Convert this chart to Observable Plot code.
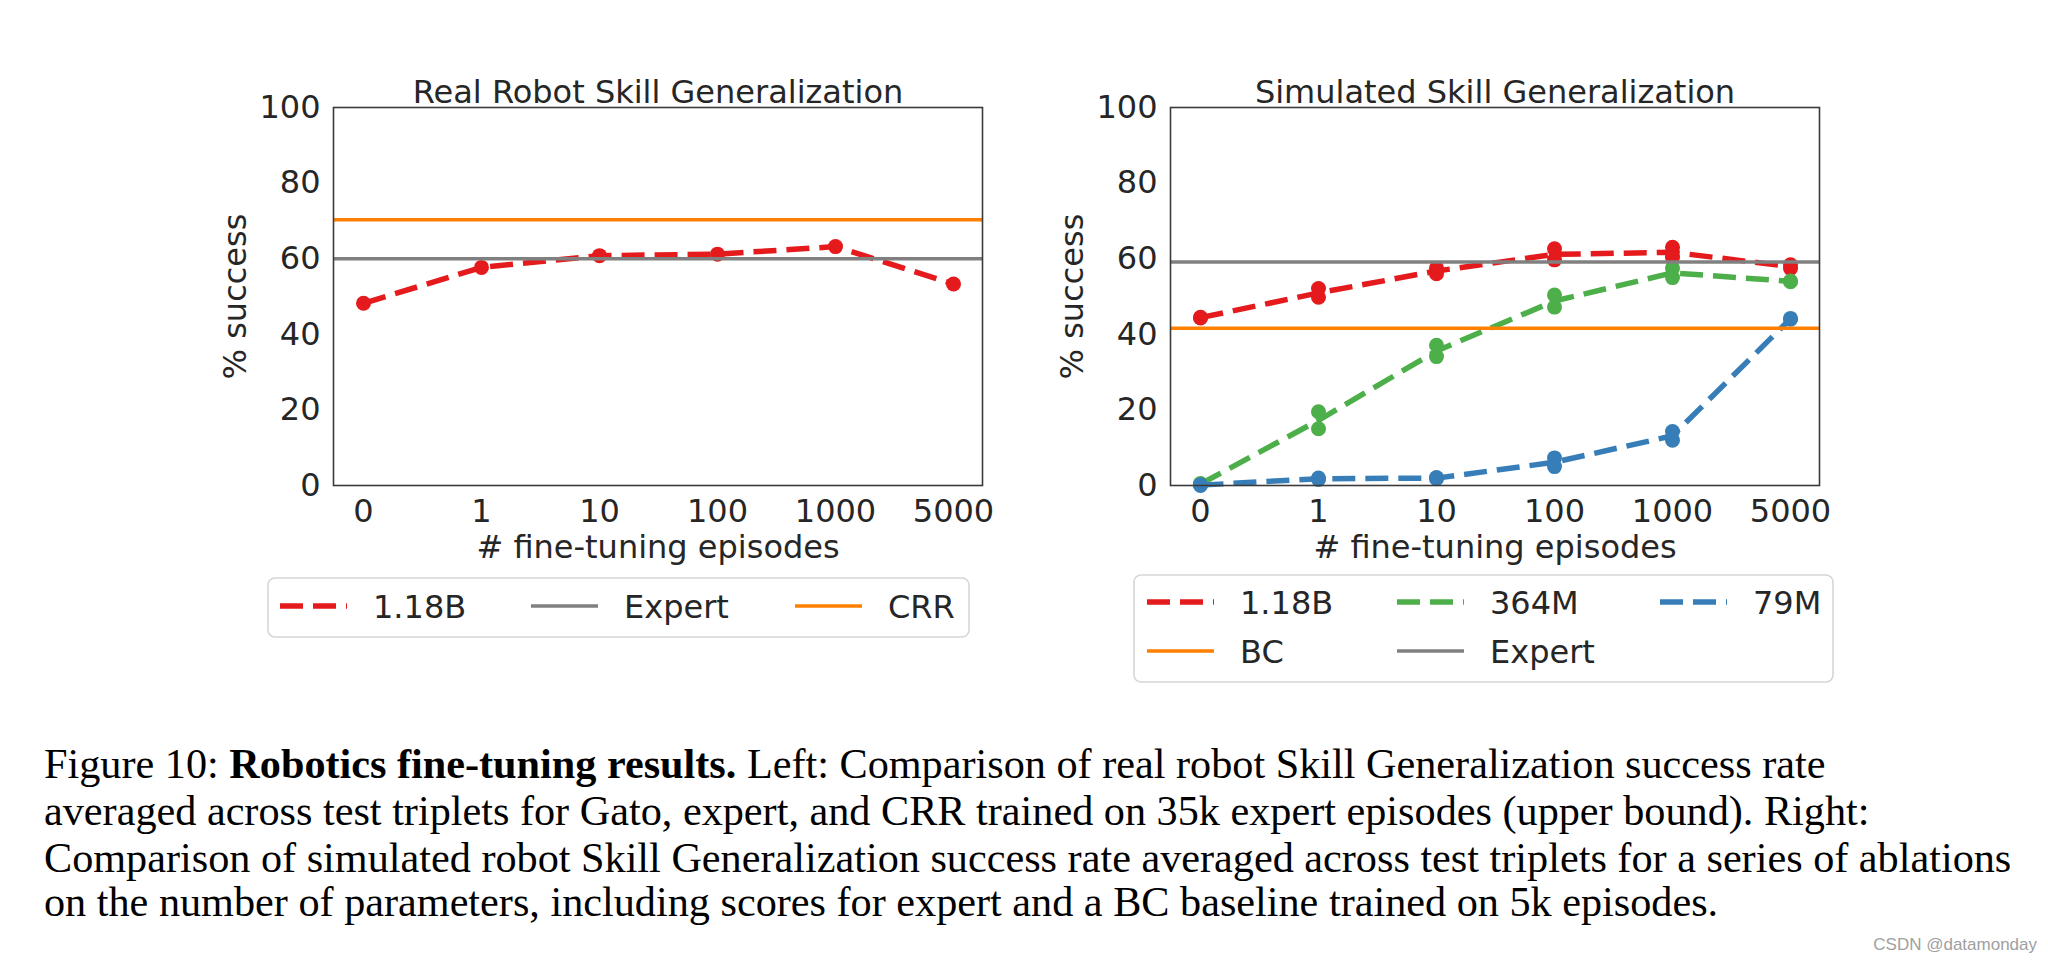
<!DOCTYPE html>
<html><head><meta charset="utf-8">
<script src="https://cdn.jsdelivr.net/npm/d3@7"></script>
<script src="https://cdn.jsdelivr.net/npm/@observablehq/plot@0.6"></script>
<style>
html,body{margin:0;padding:0;background:#fff;width:2048px;height:961px;overflow:hidden;}
#page{position:relative;width:2048px;height:961px;background:#fff;}
.abs{position:absolute;}
</style></head><body><div id="page"></div>
<script>
// ---------------- data ----------------
const episodes = ["0", "1", "10", "100", "1000", "5000"];
const yTicks = [0, 20, 40, 60, 80, 100];

// Left: Real Robot Skill Generalization
const realTitle = "Real Robot Skill Generalization";
const realModels = ["1.18B"];
const realColors = ["#e41a1c"];
const realGato = [48.2, 57.7, 60.8, 61.2, 63.2, 53.3];
const realExpert = 60.0;
const realCRR = 70.3;

// Right: Simulated Skill Generalization (two observations per point)
const simTitle = "Simulated Skill Generalization";
const simModels = ["1.18B", "364M", "79M"];
const simColors = ["#e41a1c", "#4daf4a", "#377eb8"];
const sim118B_a = [44.5, 52.1, 57.5, 62.6, 63.0, 58.4];
const sim118B_b = [44.3, 49.8, 56.0, 59.7, 60.4, 57.4];
const sim364M_a = [0.5, 19.5, 37.1, 50.4, 57.5, 54.1];
const sim364M_b = [0.3, 15.0, 34.1, 47.2, 55.0, 53.9];
const sim79M_a = [0.2, 2.0, 2.1, 7.3, 14.3, 44.2];
const sim79M_b = [0.0, 1.6, 1.8, 5.0, 12.0, 44.0];
const simBC = 41.6;
const simExpert = 59.1;

const expertColor = "#808080";
const orangeColor = "#ff7f00";

const leftLegend = [
  {label: "1.18B", color: "#e41a1c", dashed: true},
  {label: "Expert", color: expertColor, dashed: false},
  {label: "CRR", color: orangeColor, dashed: false}
];
const rightLegend = [
  {label: "1.18B", color: "#e41a1c", dashed: true},
  {label: "364M", color: "#4daf4a", dashed: true},
  {label: "79M", color: "#377eb8", dashed: true},
  {label: "BC", color: orangeColor, dashed: false},
  {label: "Expert", color: expertColor, dashed: false}
];

const xLabel = "# fine-tuning episodes";
const yLabel = "% success";

const captionLines = [
  [["Figure 10: ", false], ["Robotics fine-tuning results.", true], [" Left: Comparison of real robot Skill Generalization success rate", false]],
  [["averaged across test triplets for Gato, expert, and CRR trained on 35k expert episodes (upper bound). Right:", false]],
  [["Comparison of simulated robot Skill Generalization success rate averaged across test triplets for a series of ablations", false]],
  [["on the number of parameters, including scores for expert and a BC baseline trained on 5k episodes.", false]]
];
const watermark = "CSDN @datamonday";

// ---------------- build tables ----------------
const realRows = episodes.map((e, i) => ({ep: e, v: realGato[i], model: "1.18B"}));
const simSeries = [
  ["1.18B", sim118B_a], ["1.18B", sim118B_b],
  ["364M", sim364M_a], ["364M", sim364M_b],
  ["79M", sim79M_a], ["79M", sim79M_b]
];
const simRows = [];
for (const [m, vals] of simSeries) episodes.forEach((e, i) => simRows.push({ep: e, v: vals[i], model: m}));

const page = document.getElementById("page");
const TEXT = "#262626";
const FONT = "DejaVu Sans";

function panel(rows, models, colors, rules, title) {
  return Plot.plot({
    width: 800, height: 540,
    marginLeft: 133, marginRight: 18, marginTop: 57, marginBottom: 105,
    x: {type: "point", domain: episodes, padding: 0.25, label: null},
    y: {domain: [0, 100], label: null},
    color: {domain: models, range: colors},
    style: {fontFamily: FONT, fontSize: "32px", color: TEXT, background: "transparent", overflow: "visible"},
    marks: [
      Plot.lineY(rows, Plot.groupX({y: "mean"}, {x: "ep", y: "v", z: "model", stroke: "model",
        strokeWidth: 5.5, strokeDasharray: "23,10", strokeLinecap: "butt", strokeLinejoin: "round"})),
      Plot.dot(rows, {x: "ep", y: "v", fill: "model", r: 7.5}),
      ...rules.map(([val, col]) => Plot.ruleY([val], {stroke: col, strokeWidth: 3.5})),
      Plot.frame({stroke: "#3a3a3a", strokeWidth: 1.6}),
      Plot.axisX({tickSize: 0, tickPadding: 14, fill: TEXT}),
      Plot.axisY({ticks: yTicks, tickSize: 0, tickPadding: 13, fill: TEXT}),
      Plot.text([title], {text: d => d, frameAnchor: "top", textAnchor: "middle", lineAnchor: "bottom", dy: -5, fill: TEXT}),
      Plot.text([xLabel], {text: d => d, frameAnchor: "bottom", textAnchor: "middle", lineAnchor: "bottom", dy: 72, fill: TEXT}),
      Plot.text([yLabel], {text: d => d, frameAnchor: "left", textAnchor: "middle", rotate: -90, dx: -98, fill: TEXT})
    ]
  });
}

const left = panel(realRows, realModels, realColors, [[realCRR, orangeColor], [realExpert, expertColor]], realTitle);
left.classList.add("abs"); left.style.left = "200px"; left.style.top = "50px";
page.appendChild(left);

const right = panel(simRows, simModels, simColors, [[simBC, orangeColor], [simExpert, expertColor]], simTitle);
right.classList.add("abs"); right.style.left = "1037px"; right.style.top = "50px";
page.appendChild(right);

// ---------------- legends ----------------
function legend(items, box, cols, rowY, colX) {
  const svg = d3.create("svg").attr("class", "abs")
    .attr("width", box.w + 4).attr("height", box.h + 4)
    .style("left", (box.x - 2) + "px").style("top", (box.y - 2) + "px")
    .style("font-family", FONT).style("font-size", "32px");
  svg.append("rect").attr("x", 2).attr("y", 2).attr("width", box.w).attr("height", box.h)
    .attr("rx", 7).attr("fill", "#fff").attr("stroke", "#d6d6d6").attr("stroke-width", 1.6);
  items.forEach((it, i) => {
    const c = i % cols, r = Math.floor(i / cols);
    const g = svg.append("g").attr("transform", `translate(${2 + colX[c]},${2 + rowY[r]})`);
    g.append("line").attr("x1", 0).attr("x2", 67).attr("y1", 0).attr("y2", 0)
      .attr("stroke", it.color).attr("stroke-width", it.dashed ? 5.5 : 3.5)
      .attr("stroke-dasharray", it.dashed ? "23,10" : null);
    g.append("text").attr("x", 93).attr("y", 11.5).attr("fill", TEXT).text(it.label);
  });
  page.appendChild(svg.node());
}
legend(leftLegend, {x: 268, y: 578, w: 701, h: 59}, 3, [28], [12, 263, 527]);
legend(rightLegend, {x: 1134, y: 575, w: 699, h: 107}, 3, [27, 76], [13, 263, 526]);

// ---------------- caption ----------------
const cap = d3.create("svg").attr("class", "abs").attr("width", 2048).attr("height", 961)
  .style("left", "0px").style("top", "0px").style("pointer-events", "none");
const baselines = [778, 825, 872, 916];
let fs = 40;
cap.style("font-family", "Liberation Serif").style("font-size", fs + "px");
const texts = captionLines.map((line, i) => {
  const t = cap.append("text").attr("x", 44).attr("y", baselines[i]).attr("fill", "#000");
  line.forEach(([s, b]) => t.append("tspan").attr("font-weight", b ? "bold" : null).text(s));
  return t;
});
page.appendChild(cap.node());
const w3 = texts[2].node().getComputedTextLength();
if (w3 > 0) { fs = fs * 1968 / w3; cap.style("font-size", fs + "px"); }
cap.append("text").attr("x", 2037).attr("y", 950).attr("text-anchor", "end")
  .attr("fill", "#a0a0a0").style("font-family", "Liberation Sans").style("font-size", "17px").text(watermark);
</script>
</body></html>
